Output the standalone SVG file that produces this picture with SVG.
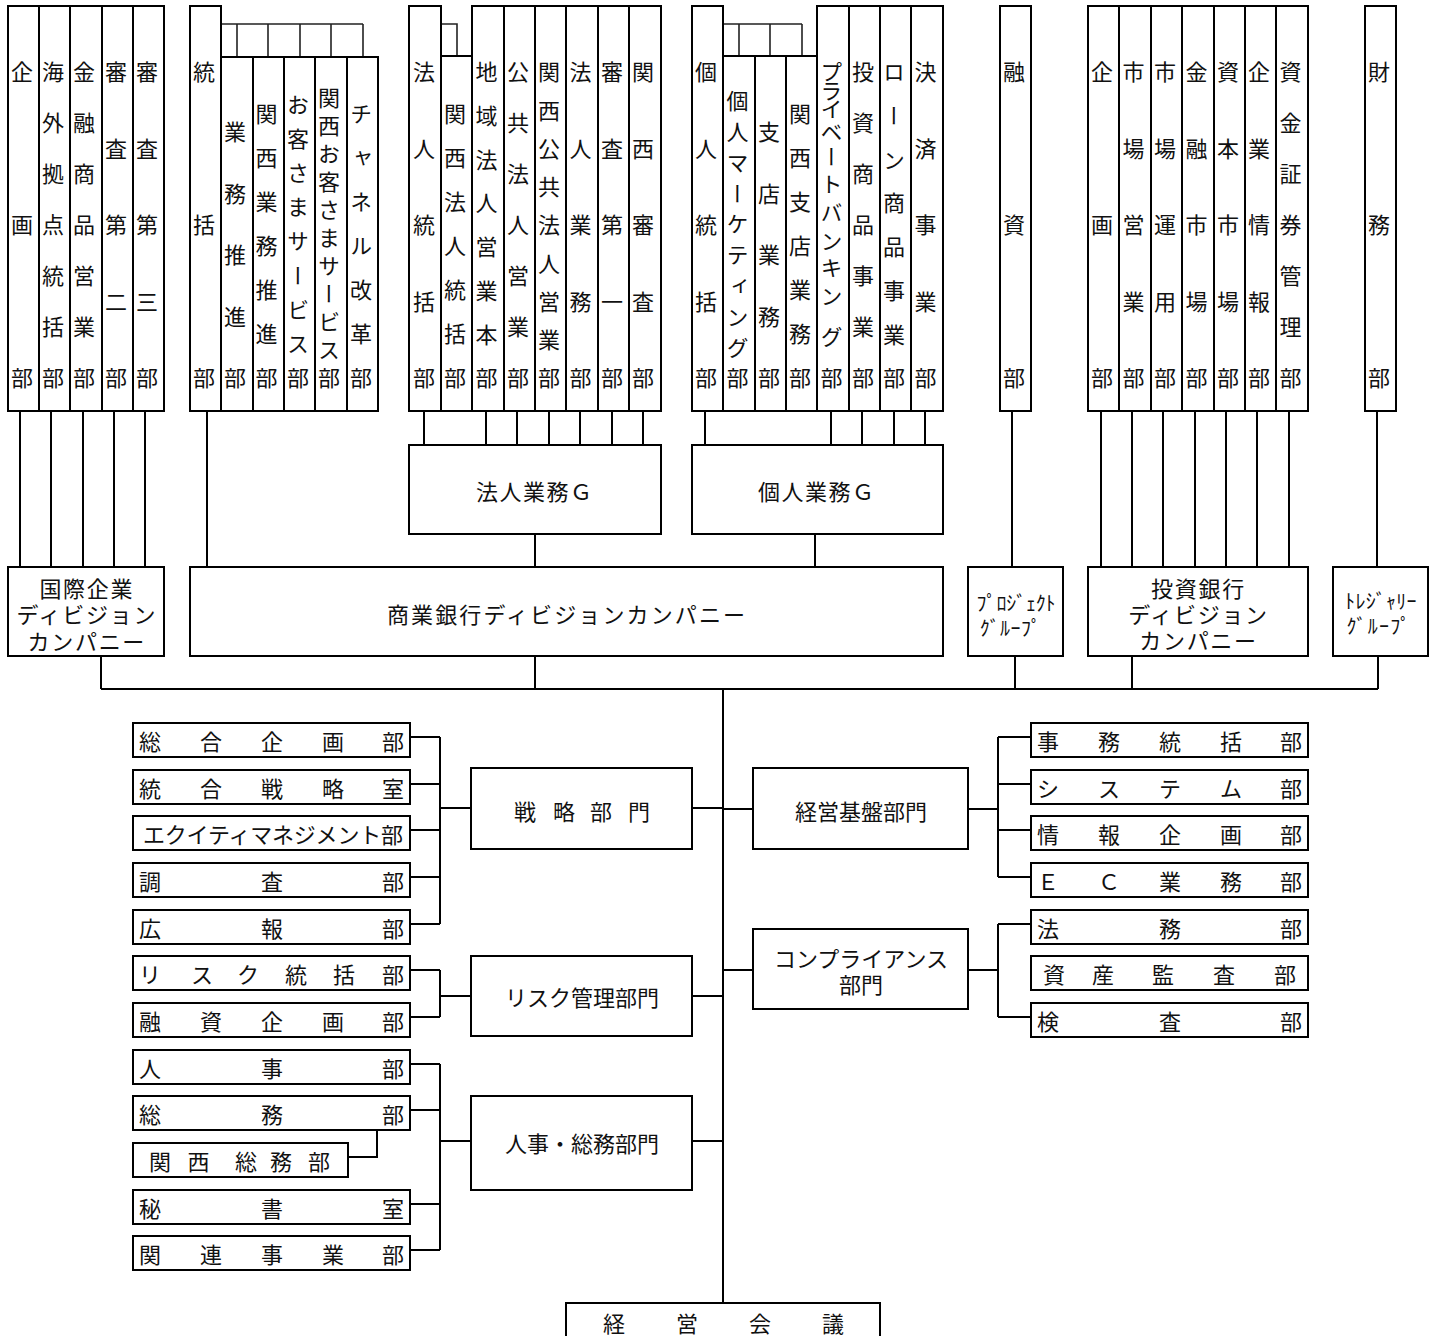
<svg xmlns="http://www.w3.org/2000/svg" width="1436" height="1336" viewBox="0 0 1436 1336">
<style>
.b{fill:#fff;stroke:#000;stroke-width:2}
.c{fill:none;stroke:#000;stroke-width:2}
.t{fill:none;stroke:#222;stroke-width:1.6}
text{font-family:"Noto Sans CJK JP","Noto Sans CJK SC",sans-serif;fill:#111;font-size:22px}
.v{writing-mode:vertical-rl;text-anchor:middle}
.h{dominant-baseline:central}
.m{text-anchor:middle}
.k{font-size:20px}
.w{letter-spacing:1.7px}
</style>
<rect width="1436" height="1336" fill="#fff"/>
<g id="connectors">
<path class="t" d="M221 24H363M237 24V57M268 24V57M300 24V57M331 24V57M363 24V57M441 24H457V56M723 24H802M739 24V56M770 24V56M802 24V56"/>
<path class="c" d="M20 411V567M51 411V567M83 411V567M114 411V567M145 411V567M207 411V567
M424 411V445M486 411V445M517 411V445M549 411V445M580 411V445M612 411V445M643 411V445
M705 411V445M831 411V445M862 411V445M894 411V445M925 411V445
M535 534V567M815 534V567M1012 411V567
M1101 411V567M1132 411V567M1163 411V567M1195 411V567M1226 411V567M1257 411V567M1289 411V567M1377 411V567
M101 656V689M535 656V689M1015 656V689M1132 656V689M1378 656V689M101 689H1378M723 689V1303
M410 737H440M410 784H440M410 830H440M410 877H440M410 924H440M440 737V924M440 808H471M692 808H723
M410 970H440M410 1017H440M440 970V1017M440 996H471M692 996H723
M410 1064H440M410 1110H440M410 1204H440M410 1250H440M440 1064V1250M348 1157H377V1130M440 1141H471M692 1141H723
M723 809H753M968 809H998M998 737V877M998 737H1031M998 784H1031M998 830H1031M998 877H1031
M723 970H753M968 970H998M998 924V1017M998 924H1031M998 1017H1031"/>
</g>
<g id="col-kikaku"><rect class="b" x="8" y="6" width="31" height="405"/><text class="v" x="22" y="72 225 378">企画部</text></g>
<g id="col-kaigai"><rect class="b" x="39" y="6" width="31" height="405"/><text class="v" x="53" y="72 123 174 225 276 327 378">海外拠点統括部</text></g>
<g id="col-kinyushohin"><rect class="b" x="70" y="6" width="32" height="405"/><text class="v" x="84" y="72 123 174 225 276 327 378">金融商品営業部</text></g>
<g id="col-shinsa2"><rect class="b" x="102" y="6" width="31" height="405"/><text class="v" x="116" y="72 148.5 225 301.5 378">審査第二部</text></g>
<g id="col-shinsa3"><rect class="b" x="133" y="6" width="31" height="405"/><text class="v" x="147" y="72 148.5 225 301.5 378">審査第三部</text></g>
<g id="col-tokatsu"><rect class="b" x="190" y="6" width="31" height="405"/><text class="v" x="204" y="72 225 378">統括部</text></g>
<g id="col-gyomusuishin"><rect class="b" x="221" y="57" width="32" height="354"/><text class="v" x="235" y="131.6 193.2 254.8 316.4 378">業務推進部</text></g>
<g id="col-kansaigyomu"><rect class="b" x="253" y="57" width="31" height="354"/><text class="v" x="266.5" y="114 158 202 246 290 334 378">関西業務推進部</text></g>
<g id="col-okyakusama"><rect class="b" x="284" y="57" width="31" height="354"/><text class="v" x="298" y="104.2 138.4 172.7 206.9 241.1 275.3 309.6 343.8 378">お客さまサービス部</text></g>
<g id="col-kansaiokyaku"><rect class="b" x="315" y="57" width="32" height="354"/><text class="v" x="329" y="98 126 154 182 210 238 266 294 322 350 378">関西お客さまサービス部</text></g>
<g id="col-channel"><rect class="b" x="347" y="57" width="31" height="354"/><text class="v" x="361" y="114 158 202 246 290 334 378">チャネル改革部</text></g>
<g id="col-hojintokatsu"><rect class="b" x="409" y="6" width="32" height="405"/><text class="v" x="424" y="72 148.5 225 301.5 378">法人統括部</text></g>
<g id="col-kansaihojin"><rect class="b" x="441" y="56" width="31" height="355"/><text class="v" x="455" y="114 158 202 246 290 334 378">関西法人統括部</text></g>
<g id="col-chiiki"><rect class="b" x="472" y="6" width="32" height="405"/><text class="v" x="486.5" y="72 115.7 159.4 203.1 246.9 290.6 334.3 378">地域法人営業本部</text></g>
<g id="col-kokyo"><rect class="b" x="504" y="6" width="31" height="405"/><text class="v" x="518" y="72 123 174 225 276 327 378">公共法人営業部</text></g>
<g id="col-kansaikokyo"><rect class="b" x="535" y="6" width="31" height="405"/><text class="v" x="549" y="72 110.3 148.5 186.8 225 263.3 301.5 339.8 378">関西公共法人営業部</text></g>
<g id="col-hojingyomu"><rect class="b" x="566" y="6" width="32" height="405"/><text class="v" x="580.5" y="72 148.5 225 301.5 378">法人業務部</text></g>
<g id="col-shinsa1"><rect class="b" x="598" y="6" width="31" height="405"/><text class="v" x="612" y="72 148.5 225 301.5 378">審査第一部</text></g>
<g id="col-kansaishinsa"><rect class="b" x="629" y="6" width="32" height="405"/><text class="v" x="643" y="72 148.5 225 301.5 378">関西審査部</text></g>
<g id="col-kojintokatsu"><rect class="b" x="692" y="6" width="31" height="405"/><text class="v" x="706" y="72 148.5 225 301.5 378">個人統括部</text></g>
<g id="col-kojinmarketing"><rect class="b" x="723" y="56" width="32" height="355"/><text class="v" x="737.5" y="100.8 131.6 162.4 193.2 224 254.8 285.6 316.4 347.2 378">個人マーケティング部</text></g>
<g id="col-shiten"><rect class="b" x="755" y="56" width="31" height="355"/><text class="v" x="769" y="131.6 193.2 254.8 316.4 378">支店業務部</text></g>
<g id="col-kansaishiten"><rect class="b" x="786" y="56" width="31" height="355"/><text class="v" x="800" y="114 158 202 246 290 334 378">関西支店業務部</text></g>
<g id="col-private"><rect class="b" x="817" y="6" width="32" height="405"/><text class="v" x="831.5" y="72 91 109 132 157 184 213 241 268 296 337 378">プライベートバンキング部</text></g>
<g id="col-toshishohin"><rect class="b" x="849" y="6" width="31" height="405"/><text class="v" x="863" y="72 123 174 225 276 327 378">投資商品事業部</text></g>
<g id="col-loan"><rect class="b" x="880" y="6" width="31" height="405"/><text class="v" x="894" y="72 115.7 159.4 203.1 246.9 290.6 334.3 378">ローン商品事業部</text></g>
<g id="col-kessai"><rect class="b" x="911" y="6" width="32" height="405"/><text class="v" x="925.5" y="72 148.5 225 301.5 378">決済事業部</text></g>
<g id="col-yushi"><rect class="b" x="1000" y="6" width="31" height="405"/><text class="v" x="1014" y="72 225 378">融資部</text></g>
<g id="col-ib-kikaku"><rect class="b" x="1088" y="6" width="31" height="405"/><text class="v" x="1102" y="72 225 378">企画部</text></g>
<g id="col-shijoeigyo"><rect class="b" x="1119" y="6" width="32" height="405"/><text class="v" x="1133.5" y="72 148.5 225 301.5 378">市場営業部</text></g>
<g id="col-shijounyo"><rect class="b" x="1151" y="6" width="31" height="405"/><text class="v" x="1165" y="72 148.5 225 301.5 378">市場運用部</text></g>
<g id="col-kinyushijo"><rect class="b" x="1182" y="6" width="32" height="405"/><text class="v" x="1196.5" y="72 148.5 225 301.5 378">金融市場部</text></g>
<g id="col-shihonshijo"><rect class="b" x="1214" y="6" width="31" height="405"/><text class="v" x="1228" y="72 148.5 225 301.5 378">資本市場部</text></g>
<g id="col-kigyojoho"><rect class="b" x="1245" y="6" width="31" height="405"/><text class="v" x="1259" y="72 148.5 225 301.5 378">企業情報部</text></g>
<g id="col-shikinshoken"><rect class="b" x="1276" y="6" width="32" height="405"/><text class="v" x="1290.5" y="72 123 174 225 276 327 378">資金証券管理部</text></g>
<g id="col-zaimu"><rect class="b" x="1365" y="6" width="31" height="405"/><text class="v" x="1379" y="72 225 378">財務部</text></g>
<g id="box-hojing"><rect class="b" x="409" y="445" width="252" height="89"/><text class="h" x="476" y="490" textLength="116" lengthAdjust="spacing">法人業務Ｇ</text></g>
<g id="box-kojing"><rect class="b" x="692" y="445" width="251" height="89"/><text class="h" x="758" y="490" textLength="116" lengthAdjust="spacing">個人業務Ｇ</text></g>
<g id="box-kokusai"><rect class="b" x="8" y="567" width="156" height="89"/><text class="h m w"><tspan x="86.8" y="586.5">国際企業</tspan><tspan x="86.8" y="613">ディビジョン</tspan><tspan x="86.8" y="639.5">カンパニー</tspan></text></g>
<g id="box-shogyo"><rect class="b" x="190" y="567" width="753" height="89"/><text class="h" x="387" y="613" textLength="358" lengthAdjust="spacing">商業銀行ディビジョンカンパニー</text></g>
<g id="box-project"><rect class="b" x="968" y="567" width="95" height="89"/><text class="h m k"><tspan x="1016" y="602" letter-spacing="-0.2">ﾌﾟﾛｼﾞｪｸﾄ</tspan><tspan x="1010.5" y="627" letter-spacing="0.4">ｸﾞﾙｰﾌﾟ</tspan></text></g>
<g id="box-toshiginko"><rect class="b" x="1088" y="567" width="220" height="89"/><text class="h m w"><tspan x="1198.5" y="586.5">投資銀行</tspan><tspan x="1198.5" y="613">ディビジョン</tspan><tspan x="1198.5" y="639">カンパニー</tspan></text></g>
<g id="box-treasury"><rect class="b" x="1333" y="567" width="95" height="89"/><text class="h m k"><tspan x="1381" y="600" letter-spacing="0.3">ﾄﾚｼﾞｬﾘｰ</tspan><tspan x="1379" y="625" letter-spacing="1.2">ｸﾞﾙｰﾌﾟ</tspan></text></g>
<g id="box-senryaku"><rect class="b" x="471" y="768" width="221" height="81"/><text class="h m" x="525 564 601 639" y="810">戦略部門</text></g>
<g id="box-risk"><rect class="b" x="471" y="956" width="221" height="80"/><text class="h m" x="582" y="996">リスク管理部門</text></g>
<g id="box-jinji"><rect class="b" x="471" y="1096" width="221" height="94"/><text class="h m" x="582" y="1142">人事・総務部門</text></g>
<g id="box-keiei"><rect class="b" x="753" y="768" width="215" height="81"/><text class="h m" x="861" y="810">経営基盤部門</text></g>
<g id="box-compliance"><rect class="b" x="753" y="929" width="215" height="80"/><text class="h m"><tspan x="861" y="957">コンプライアンス</tspan><tspan x="861" y="983">部門</tspan></text></g>
<g id="box-kaigi"><rect class="b" x="566" y="1303" width="314" height="50"/><text class="h m" x="614 687 760 833" y="1322">経営会議</text></g>
<g id="d-sogokikaku"><rect class="b" x="133" y="723" width="277" height="34"/><text class="h m" x="150 211 272 333 393" y="740">総合企画部</text></g>
<g id="d-togosenryaku"><rect class="b" x="133" y="770" width="277" height="34"/><text class="h m" x="150 211 272 333 393" y="787">統合戦略室</text></g>
<g id="d-equity"><rect class="b" x="133" y="816" width="277" height="34"/><text class="h" x="143" y="833" textLength="260" lengthAdjust="spacing">エクイティマネジメント部</text></g>
<g id="d-chosa"><rect class="b" x="133" y="863" width="277" height="34"/><text class="h m" x="150 272 393" y="880">調査部</text></g>
<g id="d-koho"><rect class="b" x="133" y="910" width="277" height="34"/><text class="h m" x="150 272 393" y="927">広報部</text></g>
<g id="d-risktokatsu"><rect class="b" x="133" y="956" width="277" height="34"/><text class="h m" x="150 202 248 296 344 393" y="973">リスク統括部</text></g>
<g id="d-yushikikaku"><rect class="b" x="133" y="1003" width="277" height="34"/><text class="h m" x="150 211 272 333 393" y="1020">融資企画部</text></g>
<g id="d-jinji"><rect class="b" x="133" y="1050" width="277" height="34"/><text class="h m" x="150 272 393" y="1067">人事部</text></g>
<g id="d-somu"><rect class="b" x="133" y="1096" width="277" height="34"/><text class="h m" x="150 272 393" y="1113">総務部</text></g>
<g id="d-kansaisomu"><rect class="b" x="133" y="1143" width="215" height="34"/><text class="h m" x="160 198.5 246 281 319" y="1160">関西総務部</text></g>
<g id="d-hisho"><rect class="b" x="133" y="1190" width="277" height="34"/><text class="h m" x="150 272 393" y="1207">秘書室</text></g>
<g id="d-kanren"><rect class="b" x="133" y="1236" width="277" height="34"/><text class="h m" x="150 211 272 333 393" y="1253">関連事業部</text></g>
<g id="d-jimu"><rect class="b" x="1031" y="723" width="277" height="34"/><text class="h m" x="1048 1109 1170 1231 1291" y="740">事務統括部</text></g>
<g id="d-system"><rect class="b" x="1031" y="770" width="277" height="34"/><text class="h m" x="1048 1109 1170 1231 1291" y="787">システム部</text></g>
<g id="d-johokikaku"><rect class="b" x="1031" y="816" width="277" height="34"/><text class="h m" x="1048 1109 1170 1231 1291" y="833">情報企画部</text></g>
<g id="d-ec"><rect class="b" x="1031" y="863" width="277" height="34"/><text class="h m" x="1048 1109 1170 1231 1291" y="880">ＥＣ業務部</text></g>
<g id="d-homu"><rect class="b" x="1031" y="910" width="277" height="34"/><text class="h m" x="1048 1170 1291" y="927">法務部</text></g>
<g id="d-shisankansa"><rect class="b" x="1031" y="956" width="277" height="34"/><text class="h m" x="1054 1103 1163 1224 1285" y="973">資産監査部</text></g>
<g id="d-kensa"><rect class="b" x="1031" y="1003" width="277" height="34"/><text class="h m" x="1048 1170 1291" y="1020">検査部</text></g>
</svg>
